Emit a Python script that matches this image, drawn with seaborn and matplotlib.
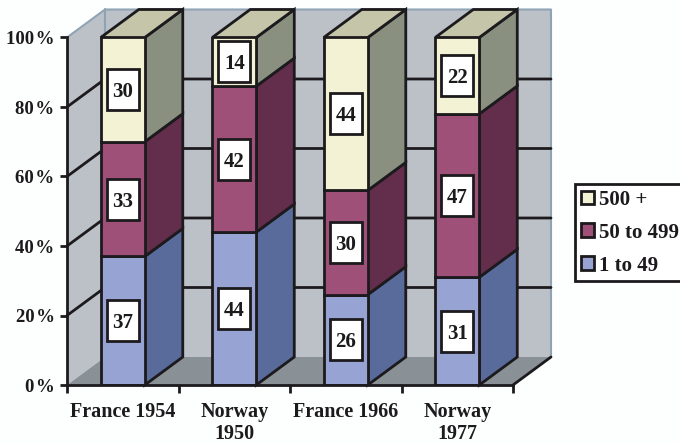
import numpy as np
import matplotlib
matplotlib.use('Agg')
import matplotlib.pyplot as plt
from matplotlib.patches import Patch, Rectangle
import seaborn as sns

# Values
categories = ['France 1954', 'Norway\n1950', 'France 1966', 'Norway\n1977']
small = [37, 44, 26, 31]
medium = [33, 42, 30, 47]
large = [30, 14, 44, 22]
series_names = ['1 to 49', '50 to 499', '500 +']
pct_ticks = [0, 20, 40, 60, 80, 100]

sns.set_theme(style='white')
plt.rcParams['font.family'] = ['Liberation Serif', 'DejaVu Serif']
plt.rcParams['font.weight'] = 'bold'

INK = '#1c1a1c'
FRONT = ['#97a3d3', '#9e5078', '#f4f2d4']
SIDE = ['#586b9b', '#632d4c', '#8a9080']
TOP = '#c5c5aa'
WALL = '#bcc1c8'
FLOOR = '#899197'
WALL_EDGE = '#8ea4b4'
BG = '#fdfefe'

W, H = 680, 444
fig = plt.figure(figsize=(W / 100, H / 100), dpi=100, facecolor=BG)
ax = fig.add_axes([67 / W, 1 - 385 / H, 446 / W, 347.5 / H])
ax.set_facecolor('none')

# depth of the fake 3D box, in data units (38 px right, 28 px up)
DX = 38 / (446 / 4)
DY = 28 / (347.5 / 100)
BAR_W = 0.395
BOX_W, BOX_H = 0.285, 11.8

x0, x1 = -0.5, 3.5

# walls and floor
ax.fill([x0, x0, x0 + DX, x0 + DX], [0, 100, 100 + DY, DY], color=WALL, lw=0, clip_on=False, zorder=0.5)
ax.fill([x0 + DX, x0 + DX, x1 + DX, x1 + DX], [DY, 100 + DY, 100 + DY, DY], color=WALL, lw=0, clip_on=False, zorder=0.5)
ax.fill([x0, x1, x1 + DX, x0 + DX], [0, 0, DY, DY], color=FLOOR, lw=0, clip_on=False, zorder=0.6)
ax.plot([x0, x0 + DX, x1 + DX, x1 + DX], [100, 100 + DY, 100 + DY, DY], color=WALL_EDGE, lw=1.5, clip_on=False, zorder=0.7)
ax.plot([x0 + DX, x0 + DX], [DY, 100 + DY], color=WALL_EDGE, lw=1.5, clip_on=False, zorder=0.7)
ax.plot([x1, x1 + DX], [0, DY], color=INK, lw=2, clip_on=False, zorder=0.8)

# gridlines along left wall and back wall
for t in pct_ticks[1:-1]:
    ax.plot([x0, x0 + DX, x1 + DX], [t, t + DY, t + DY], color=INK, lw=2, clip_on=False, zorder=0.9)

# stacked front faces
bottoms = np.zeros(len(categories))
for vals, col in zip([small, medium, large], FRONT):
    sns.barplot(x=categories, y=vals, bottom=bottoms, width=BAR_W, color=col, saturation=1,
                edgecolor=INK, linewidth=2, zorder=3, ax=ax)
    for i, v in enumerate(vals):
        right = i + BAR_W / 2
        side_col = SIDE[FRONT.index(col)]
        ax.fill([right, right + DX, right + DX, right],
                [bottoms[i], bottoms[i] + DY, bottoms[i] + v + DY, bottoms[i] + v],
                facecolor=side_col, edgecolor=INK, lw=2, clip_on=False, zorder=2.9)
        # value box
        mid = bottoms[i] + v / 2
        ax.add_patch(Rectangle((i - BOX_W / 2, mid - BOX_H / 2), BOX_W, BOX_H, facecolor='white',
                               edgecolor=INK, lw=2, zorder=4))
        ax.text(i, mid, str(v), ha='center', va='center_baseline', fontsize=15, color=INK, zorder=5)
    bottoms = bottoms + np.array(vals)

# bar tops
for i in range(len(categories)):
    left, right = i - BAR_W / 2, i + BAR_W / 2
    ax.fill([left, right, right + DX, left + DX], [100, 100, 100 + DY, 100 + DY],
            facecolor=TOP, edgecolor=INK, lw=2, clip_on=False, zorder=2.9)

ax.set_xlim(x0, x1)
ax.set_ylim(0, 100)
ax.set_yticks(pct_ticks)
ax.set_yticklabels([f'{t}\u200a%' for t in pct_ticks], fontsize=13.5, color=INK)
ax.set_xticks(np.arange(x0, x1 + 1))
ax.set_xticklabels([])
ax.set_xticks(range(len(categories)), minor=True)
ax.set_xticklabels(categories, minor=True, fontsize=14.5, color=INK, linespacing=1.15)
ax.tick_params(axis='x', which='major', length=6, width=2, color=INK, bottom=True)
ax.tick_params(axis='x', which='minor', length=0, pad=12, bottom=True)
ax.tick_params(axis='y', length=5, width=2, color=INK, left=True, pad=4)
ax.set_xlabel('')
ax.set_ylabel('')
for name in ['top', 'right']:
    ax.spines[name].set_visible(False)
for name in ['left', 'bottom']:
    ax.spines[name].set_color(INK)
    ax.spines[name].set_linewidth(2)
    ax.spines[name].set_zorder(3.5)

# legend, reversed so 500 + sits on top
handles = [Patch(facecolor=c, edgecolor=INK, lw=2) for c in FRONT[::-1]]
leg = ax.legend(handles, series_names[::-1], loc='upper left', bbox_to_anchor=(575 / W, 1 - 184 / H),
                bbox_transform=fig.transFigure, borderaxespad=0, fontsize=15, handlelength=0.65,
                handleheight=0.65, handletextpad=0.2, labelspacing=0.62, borderpad=0.28, fancybox=False,
                facecolor='white', framealpha=1, edgecolor=INK, labelcolor=INK)
leg.get_frame().set_linewidth(2)

plt.savefig('out.png', dpi=100, facecolor=fig.get_facecolor())
plt.close()
